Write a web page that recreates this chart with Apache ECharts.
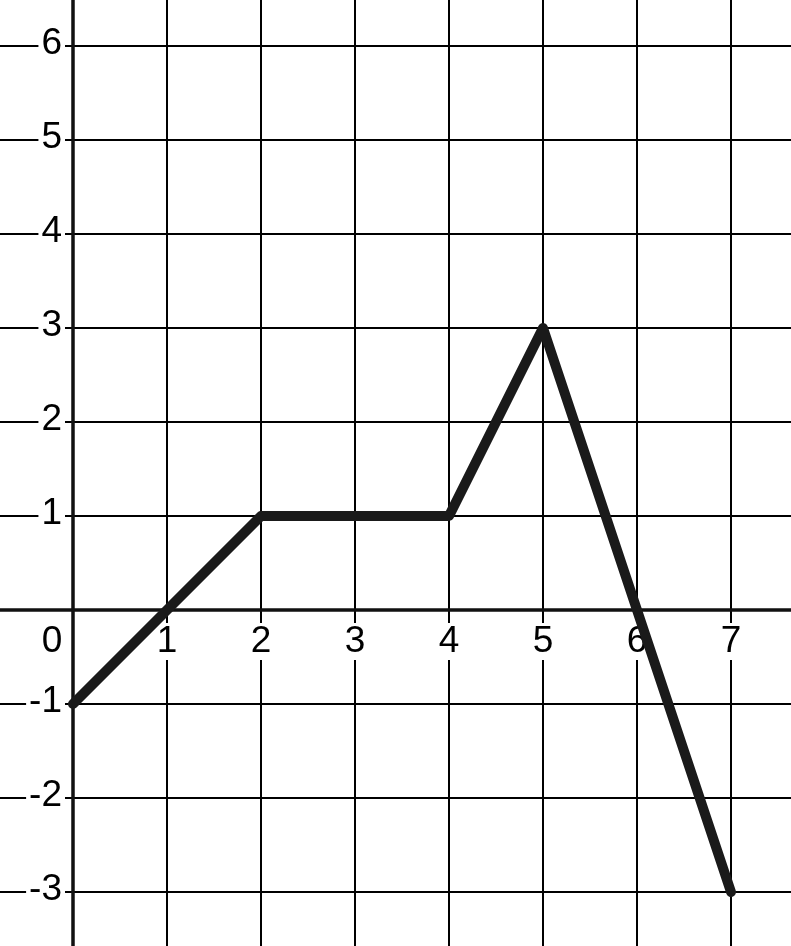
<!DOCTYPE html>
<html>
<head>
<meta charset="utf-8">
<script src="https://cdn.jsdelivr.net/npm/echarts@6/dist/echarts.min.js"></script>
<style>
html,body{margin:0;padding:0;background:#fff;}
#chart{width:791px;height:946px;}
</style>
</head>
<body>
<div id="chart"></div>
<script>
// Data
var xValues = [0, 2, 4, 5, 6, 7];
var yValues = [-1, 1, 1, 3, 0, -3];
var xTickLabels = ['0', '1', '2', '3', '4', '5', '6', '7'];
var yTickLabels = ['-3', '-2', '-1', '1', '2', '3', '4', '5', '6'];

var points = xValues.map(function (x, i) { return [x, yValues[i]]; });

var chart = echarts.init(document.getElementById('chart'), null, {renderer: 'canvas'});
var FONT = 'Liberation Sans, Arial, sans-serif';
var FS = 37;
var hidden = {show: false};
var txt = {fontFamily: FONT, fontSize: FS, color: '#000'};
chart.setOption({
  animation: false,
  backgroundColor: '#fff',
  grid: [
    // main plotting grid: x -1..8, y -4..7
    {left: -21, right: -34, top: -48, bottom: -40, outerBoundsMode: 'none', containLabel: false},
    // y-label grid: left edge on x = 0
    {left: 73, right: -34, top: -48, bottom: -40, outerBoundsMode: 'none', containLabel: false},
    // x-label grid: bottom edge on y = 0
    {left: -21, right: -34, top: -48, bottom: 336, outerBoundsMode: 'none', containLabel: false}
  ],
  xAxis: [
    {
      gridIndex: 0, type: 'value', min: -1, max: 8, interval: 1,
      axisLine: {show: true, onZero: true, lineStyle: {color: '#111', width: 3.5}},
      axisTick: hidden, axisLabel: hidden,
      splitLine: {show: true, lineStyle: {color: '#000', width: 2}}
    },
    {
      gridIndex: 1, type: 'value', min: 0, max: 8, interval: 1,
      axisLine: hidden, axisTick: hidden, axisLabel: hidden, splitLine: hidden
    },
    {
      gridIndex: 2, type: 'value', min: -1, max: 8, interval: 1, position: 'bottom',
      axisLine: {show: false, onZero: false}, axisTick: hidden, splitLine: hidden,
      axisLabel: Object.assign({}, txt, {
        show: true, margin: 16,
        formatter: function (v) {
          var s = String(v);
          if (xTickLabels.indexOf(s) < 0) return '';
          if (s === '0') return '{z|0}';
          return '{n|' + s + '}';
        },
        rich: {
          n: Object.assign({}, txt, {lineHeight: 31, backgroundColor: '#fff', padding: [0, 2, 0, 2]}),
          z: Object.assign({}, txt, {lineHeight: 31, padding: [0, 42, 0, 0]})
        }
      })
    }
  ],
  yAxis: [
    {
      gridIndex: 0, type: 'value', min: -4, max: 7, interval: 1,
      axisLine: {show: true, onZero: true, lineStyle: {color: '#111', width: 3.5}},
      axisTick: hidden, axisLabel: hidden,
      splitLine: {show: true, lineStyle: {color: '#000', width: 2}}
    },
    {
      gridIndex: 1, type: 'value', min: -4, max: 7, interval: 1, position: 'left',
      axisLine: {show: false, onZero: false}, axisTick: hidden, splitLine: hidden,
      axisLabel: Object.assign({}, txt, {
        show: true, margin: 8,
        formatter: function (v) {
          var s = String(v);
          return yTickLabels.indexOf(s) < 0 ? '' : '{n|' + s + '}';
        },
        rich: {
          n: Object.assign({}, txt, {backgroundColor: '#fff', padding: [0, 3, 4, 3]})
        }
      })
    },
    {
      gridIndex: 2, type: 'value', min: 0, max: 7, interval: 1,
      axisLine: hidden, axisTick: hidden, axisLabel: hidden, splitLine: hidden
    }
  ],
  series: [{
    type: 'line',
    xAxisIndex: 0, yAxisIndex: 0,
    data: points,
    symbol: 'none',
    clip: false,
    lineStyle: {color: '#1a1a1a', width: 10, cap: 'round', join: 'round'},
    z: 5
  }]
});
</script>
</body>
</html>
